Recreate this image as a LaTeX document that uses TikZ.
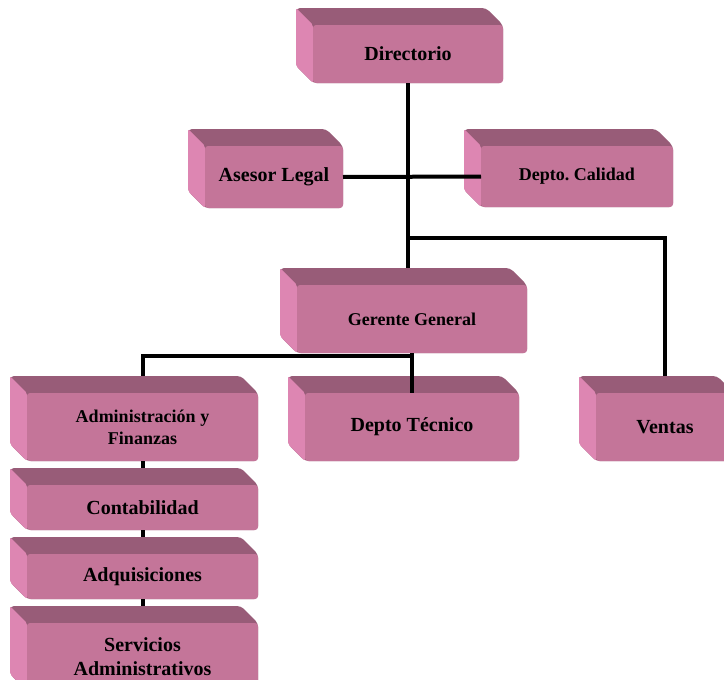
\documentclass[tikz,border=0pt]{standalone}
\usepackage{fontspec}
\setmainfont{Liberation Serif}
\usetikzlibrary{calc}
\frenchspacing

\definecolor{boxfront}{HTML}{C47599}
\definecolor{boxtop}{HTML}{985C78}
\definecolor{boxleft}{HTML}{DD86B2}

\tikzset{
  orgface/.style={fill=boxfront, rounded corners=3pt, inner sep=0pt, outer sep=0pt,
    align=center, text=black},
  conn/.style={draw=black, line width=4pt, line join=miter},
}

% size of a text font in pt, with its line distance
\newcommand\fsz[2]{\bfseries\fontsize{#1}{#2}\selectfont}
\newcommand\bxd{17}

% box with a front face, a top face and a left face
% #1 name, #2 #3 front top-left, #4 #5 front bottom-right, #6 font, #7 text
\newcommand\orgbox[7]{%
  \fill[boxtop, rounded corners=4pt]
    (#2-\bxd,#3-\bxd) -- (#4-\bxd,#3-\bxd) -- (#4,#3) -- (#4,#5) -- (#2,#5)
    -- (#2-\bxd,#5-\bxd) -- cycle;
  \fill[boxleft, rounded corners=2pt]
    (#2-\bxd,#3-\bxd) -- (#2,#3) -- (#2,#5) -- (#2-\bxd,#5-\bxd) -- cycle;
  \pgfmathsetmacro\bxw{#4-#2}%
  \pgfmathsetmacro\bxh{#5-#3}%
  \node[orgface, minimum width=\bxw pt, minimum height=\bxh pt, font=#6]
    (#1) at ({(#2+#4)/2},{(#3+#5)/2}) {#7};
  \coordinate (#1-top) at ($(#1.north)+(0,-\bxd)$);
}

\begin{document}
\begin{tikzpicture}[x=1pt, y=-1pt]
  \fill[white] (0,0) rectangle (724,680);
  \useasboundingbox (0,0) rectangle (724,680);

  \orgbox{dir}{313}{25}{503}{83}{\fsz{20}{23}}{Directorio}
  \orgbox{ase}{205}{146}{343}{208}{\fsz{20}{23}}{Asesor Legal}
  \orgbox{cal}{481}{146}{673}{207}{\fsz{18}{22}}{Depto. Calidad}
  \orgbox{ger}{297}{285}{527}{353}{\fsz{18}{22}}{Gerente General}
  \orgbox{adm}{27}{393}{258}{461}{\fsz{18}{22}}{Administración y\\Finanzas}
  \orgbox{tec}{305}{393}{519}{461}{\fsz{20}{23}}{Depto Técnico}
  \orgbox{ven}{596}{393}{734}{461}{\fsz{20}{23}}{Ventas}
  \orgbox{con}{27}{485}{258}{530}{\fsz{20}{23}}{Contabilidad}
  \orgbox{adq}{27}{554}{258}{599}{\fsz{20}{23}}{Adquisiciones}
  \orgbox{ser}{27}{623}{258}{691}{\fsz{20}{24}}{Servicios\\Administrativos}

  % connectors
  \coordinate (j1) at ($(dir.south)+(0,155)$);
  \draw[conn] (dir.south) -- (dir.south |- ger-top);
  \draw[conn] (ase.east) -- (cal.west);
  \draw[conn] (j1) -| (ven-top);
  \draw[conn] (ger.south) -- (ger.south |- tec.north);
  \draw[conn] ($(ger.south)+(0,3)$) -| (adm-top);
  \draw[conn] (adm.south) -- (con-top);
  \draw[conn] (con.south) -- (adq-top);
  \draw[conn] (adq.south) -- (ser-top);
\end{tikzpicture}
\end{document}
